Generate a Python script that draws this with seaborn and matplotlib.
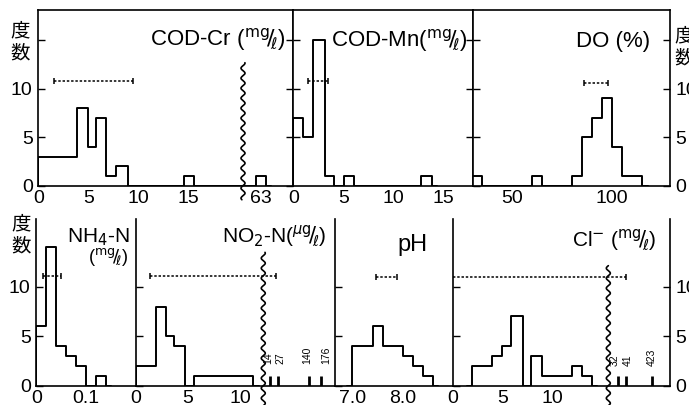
import numpy as np
import matplotlib
matplotlib.use("Agg")
import matplotlib.pyplot as plt
import seaborn as sns

W, H = 689, 405

# histogram bins (edges) and counts; gaps are zero-count bins
codcr_edges = [0, 3.9, 5.0, 5.8, 6.8, 7.8, 9.0, 14.6, 15.6, 62.5, 63.5]
codcr_counts = [3, 8, 4, 7, 1, 2, 0, 1, 0, 1]
codmn_edges = [0, 1.0, 2.0, 3.2, 4.1, 5.1, 6.1, 12.8, 13.9]
codmn_counts = [7, 5, 15, 1, 0, 1, 0, 1]
do_edges = [30, 35, 60, 65, 80, 85, 90, 95, 100, 105, 115]
do_counts = [1, 0, 1, 0, 1, 5, 7, 9, 4, 1]
nh4_edges = [0, 0.02, 0.04, 0.06, 0.08, 0.10, 0.12, 0.14]
nh4_counts = [6, 14, 4, 3, 2, 0, 1]
no2_edges = [0, 1.9, 2.9, 3.7, 4.7, 5.6, 11.3]
no2_counts = [2, 8, 5, 4, 0, 1]
ph_edges = [7.0, 7.4, 7.6, 8.0, 8.2, 8.4, 8.6]
ph_counts = [4, 6, 4, 3, 2, 1]
cl_edges = [1.9, 3.9, 5.0, 5.9, 7.1, 7.9, 9.0, 12.0, 13.0, 14.0]
cl_counts = [2, 3, 4, 7, 0, 3, 1, 2, 1]

# single far-off samples beyond the axis break
no2_outliers = [14, 27, 140, 176]
no2_outlier_counts = [1, 1, 1, 1]
cl_outliers = [32, 41, 423]
cl_outlier_counts = [1, 1, 1]

# dotted range bars (low, high)
codcr_range = (1.6, 9.5)
codmn_range = (1.5, 3.5)
do_range = (86, 98)
nh4_range = (0.013, 0.05)
no2_range = (1.3, 24)
ph_range = (7.47, 7.88)
cl_range = (-3, 41)

# tick labels
codcr_xticks = [0, 5, 10, 15, 63]
codmn_xticks = [0, 5, 10, 15]
do_xticks = [50, 100]
nh4_xticks = [0, 0.1]
nh4_xlabels = ["0", "0.1"]
no2_xticks = [0, 5, 10]
ph_xticks = [7.0, 8.0]
ph_xlabels = ["7.0", "8.0"]
cl_xticks = [0, 5, 10]
count_ticks = [0, 5, 10]

sns.set_style("white")
plt.rcParams["font.family"] = ["Liberation Sans Narrow", "Liberation Sans", "DejaVu Sans"]
plt.rcParams["axes.edgecolor"] = "black"
plt.rcParams["axes.linewidth"] = 1.2
CJK = ["Noto Sans CJK JP", "DejaVu Sans"]

fig = plt.figure(figsize=(W / 100, H / 100), dpi=100)


def break_scale(data_knots, disp_knots):
    # piecewise-linear scale that squeezes the gap behind the axis break
    dk = np.r_[data_knots[0] - 1e4, data_knots, data_knots[-1] + 1e4]
    pk = np.r_[disp_knots[0] - 1e4, disp_knots, disp_knots[-1] + 1e4]
    return (lambda v: np.interp(v, dk, pk)), (lambda v: np.interp(v, pk, dk))


def panel(box, xlim, ylim, edges, counts, pad_w, rng, rng_y, xticks, xlabels=None, knots=None):
    x0, x1, y0, y1 = box
    ax = fig.add_axes([x0 / W, 1 - y1 / H, (x1 - x0) / W, (y1 - y0) / H])
    e = [edges[0] - pad_w] + list(edges) + [edges[-1] + pad_w]
    c = [0] + list(counts) + [0]
    mids = [(a + b) / 2 for a, b in zip(e[:-1], e[1:])]
    sns.histplot(x=mids, weights=c, bins=e, element="step", fill=False,
                 color="black", linewidth=1.4, ax=ax)
    lo, hi = rng
    mid = (lo + hi) / 2
    eb = ax.errorbar([mid], [rng_y], xerr=[[mid - lo], [hi - mid]], fmt="none",
                     ecolor="black", elinewidth=1.1, capsize=2.5, capthick=1.1)
    eb.lines[2][0].set_linestyle((0, (1.6, 1.2)))
    if knots is not None:
        ax.set_xscale("function", functions=break_scale(*knots))
    ax.set_xlim(xlim)
    ax.set_ylim(ylim)
    ax.set(xlabel="", ylabel="")
    ax.set_xticks(xticks, xlabels if xlabels is not None else [str(t) for t in xticks])
    ax.tick_params(axis="both", direction="in", length=5, width=1, labelsize=14,
                   color="black", labelcolor="black")
    ax.tick_params(axis="x", pad=3)
    ax.tick_params(axis="y", pad=4)
    return ax


def spikes(ax, values, counts, label_y, label_dx):
    ax.vlines(values, 0, counts, color="black", lw=2.0)
    for v, dx in zip(values, label_dx):
        ax.annotate(str(v), (v, label_y), xytext=(dx, 0), textcoords="offset points",
                    rotation=90, ha="center", va="bottom", fontsize=7.5, color="black")


def wave(ax, box, brk_frac, top_frac, bot_frac):
    x0, x1, y0, y1 = box
    yy = np.linspace(bot_frac, top_frac, 300)
    hpx = (yy * (y1 - y0))
    xx = brk_frac + 2.0 * np.sin(2 * np.pi * hpx / 10.0) / (x1 - x0)
    ax.plot(xx, yy, color="black", lw=1.2, transform=ax.transAxes, clip_on=False)


def ftext(x, y, s, **kw):
    fig.text(x / W, 1 - y / H, s, color="black", **kw)


top_ylim = (0, 18.08)
bot_ylim = (0, 16.84)

# ---- top row ----
b = (38.3, 293.3, 10, 185.7)
codcr_knots = ([0, 20.45, 61.2], [0, 20.45, 20.5])
ax = panel(b, (0, 66.2), top_ylim, codcr_edges, codcr_counts, 0.5, codcr_range, 10.8,
           codcr_xticks, knots=codcr_knots)
ax.set_yticks([0, 5, 10, 15], ["0", "5", "10", ""])
ax.tick_params(axis="y", left=True, right=True, labelleft=True)
wave(ax, b, 20.47 / 25.5, 0.70, -0.08)

b = (293.3, 472.5, 10, 185.7)
ax = panel(b, (0, 17.92), top_ylim, codmn_edges, codmn_counts, 0.5, codmn_range, 10.8,
           codmn_xticks)
ax.set_yticks([5, 10, 15])
ax.tick_params(axis="y", left=True, right=True, labelleft=False)

b = (472.5, 670, 10, 185.7)
ax = panel(b, (30.4, 129.15), top_ylim, do_edges, do_counts, 3, do_range, 10.6, do_xticks)
ax.set_yticks([0, 5, 10, 15], ["0", "5", "10", ""])
ax.tick_params(axis="y", left=True, right=True, labelleft=False, labelright=True)

# ---- bottom row ----
b = (36.3, 136, 219, 385.7)
ax = panel(b, (0, 0.1994), bot_ylim, nh4_edges, nh4_counts, 0.01, nh4_range, 11.1,
           nh4_xticks, nh4_xlabels)
ax.set_yticks(count_ticks)
ax.tick_params(axis="y", left=True, labelleft=True)
ax.spines[["top", "right"]].set_visible(False)

b = (136, 334.5, 219, 385.7)
no2_knots = ([0, 12.24, 14, 27, 140, 176], [0, 12.24, 12.88, 13.70, 16.63, 17.79])
ax = panel(b, (0, 177.3), bot_ylim, no2_edges, no2_counts, 0.5, no2_range, 11.1,
           no2_xticks, knots=no2_knots)
spikes(ax, no2_outliers, no2_outlier_counts, 2.2, [-1, 1.5, -1, 3.5])
ax.set_yticks(count_ticks)
ax.tick_params(axis="y", left=True, labelleft=False)
ax.spines[["top", "right"]].set_visible(False)
wave(ax, b, 12.24 / 19.09, 0.80, -0.12)

b = (334.5, 453, 219, 385.7)
ax = panel(b, (6.648, 8.99), bot_ylim, ph_edges, ph_counts, 0.1, ph_range, 11.0,
           ph_xticks, ph_xlabels)
ax.set_yticks(count_ticks)
ax.tick_params(axis="y", left=True, labelleft=False)
ax.spines[["top", "right"]].set_visible(False)

b = (453, 670, 219, 385.7)
cl_knots = ([0, 15.69, 32, 41, 423], [0, 15.69, 16.64, 17.47, 20.07])
ax = panel(b, (0, 424.85), bot_ylim, cl_edges, cl_counts, 0.5, cl_range, 11.0,
           cl_xticks, knots=cl_knots)
spikes(ax, cl_outliers, cl_outlier_counts, 2.0, [-2, 1.5, 0])
ax.set_yticks(count_ticks)
ax.tick_params(axis="y", left=True, right=True, labelleft=False, labelright=True)
ax.spines["top"].set_visible(False)
wave(ax, b, 15.69 / 21.92, 0.72, -0.12)

# ---- panel titles ----
frac = r"($^{\mathrm{mg}}\!/\!_{\ell}$)"
ftext(285, 40, "COD-Cr " + frac, ha="right", va="center", fontsize=16)
ftext(468, 41, "COD-Mn" + frac, ha="right", va="center", fontsize=16)
ftext(650, 41, "DO (%)", ha="right", va="center", fontsize=16)
ftext(130, 237, "NH$_4$-N", ha="right", va="center", fontsize=15)
ftext(128, 257, frac, ha="right", va="center", fontsize=13)
ftext(327, 236, "NO$_2$-N" + r"($^{\mu\mathrm{g}}\!/\!_{\ell}$)", ha="right", va="center", fontsize=15)
ftext(428, 245, "pH", ha="right", va="center", fontsize=17)
ftext(657, 240, "Cl$^{-}$ " + frac, ha="right", va="center", fontsize=15)

# axis caption 度数 (frequency)
ftext(20, 42, "度\n数", ha="center", va="center", family=CJK, fontsize=14, linespacing=1.05)
ftext(674, 47, "度\n数", ha="left", va="center", family=CJK, fontsize=14, linespacing=1.05)
ftext(21, 235, "度\n数", ha="center", va="center", family=CJK, fontsize=14, linespacing=1.05)

fig.savefig("out.png", dpi=100)
